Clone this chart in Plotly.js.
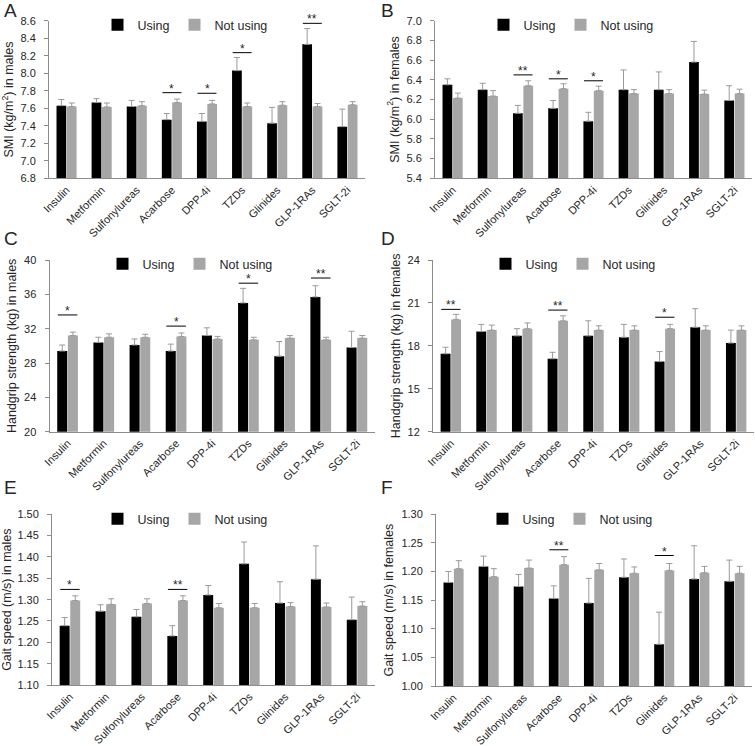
<!DOCTYPE html>
<html><head><meta charset="utf-8">
<script src="https://cdn.plot.ly/plotly-3.0.1.min.js"></script>
<style>html,body{margin:0;padding:0;background:#fff}#chart{width:755px;height:746px}</style>
</head><body><div id="chart"></div>
<script>
const categories = ['Insulin','Metformin','Sulfonylureas','Acarbose','DPP-4i','TZDs','Glinides','GLP-1RAs','SGLT-2i'];
const seriesNames = ['Using','Not using'];

// A: SMI in males
const smiMaleUsing     = [7.63, 7.665, 7.62, 7.47, 7.45, 8.03, 7.43, 8.33, 7.39];
const smiMaleUsingSE   = [0.07, 0.045, 0.07, 0.07, 0.09, 0.15, 0.18, 0.18, 0.20];
const smiMaleNot       = [7.62, 7.615, 7.63, 7.665, 7.65, 7.62, 7.635, 7.62, 7.64];
const smiMaleNotSE     = [0.04, 0.045, 0.045, 0.04, 0.04, 0.04, 0.04, 0.035, 0.035];
// [category, mark, bracket level in axis units]
const smiMaleSig       = [['Acarbose','*',7.778],['DPP-4i','*',7.771],['TZDs','*',8.235],['GLP-1RAs','**',8.57]];

// B: SMI in females
const smiFemaleUsing   = [6.35, 6.30, 6.06, 6.11, 5.98, 6.30, 6.30, 6.58, 6.19];
const smiFemaleUsingSE = [0.06, 0.065, 0.08, 0.08, 0.09, 0.20, 0.18, 0.21, 0.15];
const smiFemaleNot     = [6.215, 6.235, 6.34, 6.31, 6.29, 6.26, 6.26, 6.255, 6.26];
const smiFemaleNotSE   = [0.05, 0.055, 0.05, 0.05, 0.045, 0.04, 0.04, 0.04, 0.045];
const smiFemaleSig     = [['Sulfonylureas','**',6.45],['Acarbose','*',6.41],['DPP-4i','*',6.39]];

// C: Handgrip strength in males
const hgMaleUsing      = [29.4, 30.4, 30.1, 29.4, 31.2, 35.0, 28.8, 35.7, 29.8];
const hgMaleUsingSE    = [0.7, 0.6, 0.7, 0.8, 0.9, 1.7, 1.7, 1.3, 1.9];
const hgMaleNot        = [31.2, 31.0, 31.0, 31.1, 30.8, 30.7, 30.9, 30.7, 30.9];
const hgMaleNotSE      = [0.4, 0.4, 0.35, 0.4, 0.3, 0.3, 0.3, 0.3, 0.3];
const hgMaleSig        = [['Insulin','*',33.6],['Acarbose','*',32.3],['TZDs','*',37.3],['GLP-1RAs','**',37.9]];

// D: Handgrip strength in females
const hgFemaleUsing    = [17.45, 19.0, 18.7, 17.1, 18.7, 18.6, 16.9, 19.3, 18.2];
const hgFemaleUsingSE  = [0.45, 0.5, 0.5, 0.45, 1.05, 0.9, 0.7, 1.3, 0.9];
const hgFemaleNot      = [19.85, 19.1, 19.2, 19.75, 19.1, 19.1, 19.2, 19.1, 19.1];
const hgFemaleNotSE    = [0.35, 0.35, 0.4, 0.35, 0.3, 0.3, 0.3, 0.3, 0.3];
const hgFemaleSig      = [['Insulin','**',20.55],['Acarbose','**',20.5],['Glinides','*',20.0]];

// E: Gait speed in males
const gsMaleUsing      = [1.239, 1.273, 1.260, 1.215, 1.311, 1.384, 1.292, 1.348, 1.253];
const gsMaleUsingSE    = [0.019, 0.015, 0.017, 0.024, 0.022, 0.051, 0.050, 0.078, 0.053];
const gsMaleNot        = [1.298, 1.289, 1.291, 1.298, 1.281, 1.281, 1.284, 1.283, 1.285];
const gsMaleNotSE      = [0.011, 0.013, 0.011, 0.011, 0.010, 0.010, 0.009, 0.009, 0.010];
const gsMaleSig        = [['Insulin','*',1.324],['Acarbose','**',1.324]];

// F: Gait speed in females
const gsFemaleUsing    = [1.181, 1.209, 1.174, 1.153, 1.145, 1.190, 1.073, 1.187, 1.183];
const gsFemaleUsingSE  = [0.019, 0.018, 0.021, 0.022, 0.043, 0.032, 0.056, 0.058, 0.037];
const gsFemaleNot      = [1.205, 1.191, 1.206, 1.212, 1.203, 1.197, 1.202, 1.198, 1.197];
const gsFemaleNotSE    = [0.014, 0.014, 0.014, 0.014, 0.011, 0.011, 0.012, 0.011, 0.012];
const gsFemaleSig      = [['Acarbose','**',1.238],['Glinides','*',1.228]];

const panelLetters = ['A','B','C','D','E','F'];
const yTitles = ['SMI (kg/m<sup>2</sup>) in males','SMI (kg/m<sup>2</sup>) in females',
  'Handgrip strength (kg) in males','Handgrip strength (kg) in females',
  'Gait speed (m/s) in males','Gait speed (m/s) in females'];
const yRanges = [[6.8,8.6],[5.4,7.0],[20,40],[12,24],[1.10,1.50],[1.00,1.30]];
const yDticks = [0.2,0.2,4,3,0.05,0.05];
const yFormats = ['.1f','.1f','d','d','.2f','.2f'];

// ---- layout geometry (pixels) ----
const W = 755, H = 746;
const boxes = [
  {x:[49,365], y:[20.7,178.3], leg:[185,25], letter:[2,10]},
  {x:[435,752], y:[20.7,178.3], leg:[571,25], letter:[379,10]},
  {x:[49.5,375], y:[260,431.7], leg:[190,264], letter:[2,238]},
  {x:[433,754], y:[260,431.7], leg:[573,264], letter:[379,238]},
  {x:[52,375], y:[514.3,685], leg:[185,519], letter:[2,487]},
  {x:[436,752], y:[514.3,686], leg:[570,519], letter:[379,487]}
];

const panels = [
  [smiMaleUsing, smiMaleUsingSE, smiMaleNot, smiMaleNotSE, smiMaleSig],
  [smiFemaleUsing, smiFemaleUsingSE, smiFemaleNot, smiFemaleNotSE, smiFemaleSig],
  [hgMaleUsing, hgMaleUsingSE, hgMaleNot, hgMaleNotSE, hgMaleSig],
  [hgFemaleUsing, hgFemaleUsingSE, hgFemaleNot, hgFemaleNotSE, hgFemaleSig],
  [gsMaleUsing, gsMaleUsingSE, gsMaleNot, gsMaleNotSE, gsMaleSig],
  [gsFemaleUsing, gsFemaleUsingSE, gsFemaleNot, gsFemaleNotSE, gsFemaleSig]
];

const FONT = 'Liberation Sans, Arial, sans-serif';
const TXT = '#262626';
const BLACK = '#000000', GREY = '#a6a6a6', ERR = '#9a9a9a', AXIS = '#8c8c8c';

const traces = [], shapes = [], annotations = [];
const layout = {
  width: W, height: H, margin:{l:0,r:0,t:0,b:0},
  paper_bgcolor:'#fff', plot_bgcolor:'#fff',
  barmode:'group', bargap:0.41, bargroupgap:0.06,
  font:{family:FONT, color:TXT, size:11},
  showlegend:true
};

panels.forEach((p, i) => {
  const n = i === 0 ? '' : String(i+1);
  const xa = 'x'+n, ya = 'y'+n, lg = 'legend'+n;
  const [u, ue, nu, ne, sig] = p;
  const b = boxes[i];
  traces.push({
    type:'bar', name:seriesNames[0], x:categories, y:u, xaxis:xa, yaxis:ya, legend:lg,
    marker:{color:BLACK},
    error_y:{type:'data', array:ue, symmetric:false, arrayminus:ue.map(()=>0), color:ERR, thickness:1, width:3}
  });
  traces.push({
    type:'bar', name:seriesNames[1], x:categories, y:nu, xaxis:xa, yaxis:ya, legend:lg,
    marker:{color:GREY},
    error_y:{type:'data', array:ne, symmetric:false, arrayminus:ne.map(()=>0), color:ERR, thickness:1, width:3}
  });
  layout['xaxis'+n] = {
    domain:[b.x[0]/W, b.x[1]/W], anchor:ya, type:'category',
    showline:true, linecolor:AXIS, linewidth:1, ticks:'', showgrid:false, zeroline:false,
    tickangle:-45, tickfont:{size:11, color:TXT, family:FONT}, fixedrange:true
  };
  const r = yRanges[i];
  layout['yaxis'+n] = {
    domain:[1-b.y[1]/H, 1-b.y[0]/H], anchor:xa, range:r, dtick:yDticks[i], tick0:r[0],
    tickformat:yFormats[i], showline:true, linecolor:AXIS, linewidth:1,
    ticks:'outside', ticklen:4, tickcolor:AXIS, ticklabelstandoff:6,
    showgrid:false, zeroline:false, tickfont:{size:11, color:TXT, family:FONT},
    title:{text:yTitles[i], font:{size:12.5, color:TXT, family:FONT}, standoff:4}
  };
  layout[lg] = {
    orientation:'h', x:b.leg[0]/W, xanchor:'center', y:1-b.leg[1]/H, yanchor:'middle',
    font:{size:12.5, color:TXT, family:FONT}, bgcolor:'rgba(0,0,0,0)', itemwidth:30,
    tracegroupgap:0, itemclick:false, itemdoubleclick:false
  };
  annotations.push({
    xref:'paper', yref:'paper', x:b.letter[0]/W, y:1-b.letter[1]/H, xanchor:'left', yanchor:'middle',
    text:panelLetters[i], showarrow:false, font:{size:19, color:TXT, family:FONT}
  });
  sig.forEach(([cat, mark, level]) => {
    const k = categories.indexOf(cat);
    shapes.push({type:'line', xref:xa, yref:ya, x0:k-0.27, x1:k+0.27, y0:level, y1:level,
      line:{color:'#000', width:1}});
    annotations.push({xref:xa, yref:ya, x:k, y:level, text:mark, showarrow:false,
      yanchor:'bottom', yshift:-5, font:{size:12, color:TXT, family:FONT}});
  });
});
layout.shapes = shapes;
layout.annotations = annotations;

Plotly.newPlot('chart', traces, layout, {staticPlot:true, displayModeBar:false});
</script></body></html>
